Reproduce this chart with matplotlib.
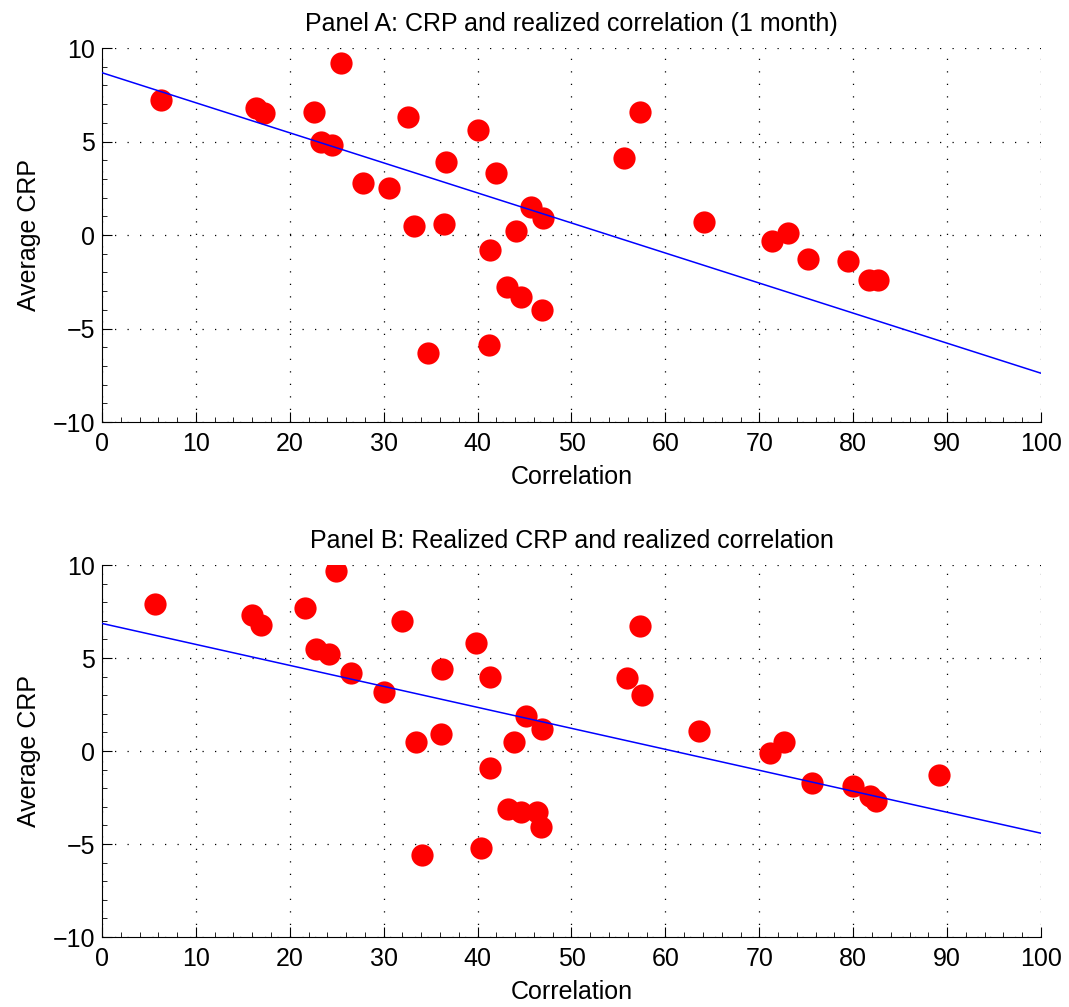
import matplotlib
matplotlib.use("Agg")
import matplotlib.pyplot as plt
from matplotlib.ticker import MultipleLocator

plt.rcParams['font.family'] = ['Liberation Sans', 'DejaVu Sans']

# Panel A: CRP vs realized correlation (1 month)
corr_a = [6.3, 16.4, 17.3, 22.6, 25.5, 23.3, 24.5, 27.8, 30.6, 32.6, 33.2, 34.7,
          36.4, 36.6, 40.0, 41.3, 41.2, 42.0, 43.1, 44.1, 44.6, 45.7, 47.0, 46.9,
          55.6, 57.3, 64.1, 71.4, 73.1, 75.2, 79.4, 81.7, 82.6]
crp_a = [7.2, 6.8, 6.5, 6.6, 9.2, 5.0, 4.8, 2.8, 2.5, 6.3, 0.5, -6.3,
         0.6, 3.9, 5.6, -0.8, -5.9, 3.3, -2.8, 0.2, -3.3, 1.5, 0.9, -4.0,
         4.1, 6.6, 0.7, -0.3, 0.1, -1.3, -1.4, -2.4, -2.4]
fit_a = (8.68, -0.1607)   # intercept, slope

# Panel B: realized CRP vs realized correlation
corr_b = [5.6, 16.0, 16.9, 21.6, 24.9, 22.8, 24.2, 26.5, 30.0, 31.9, 33.4, 34.1,
          36.1, 36.2, 39.8, 41.3, 40.4, 41.3, 43.2, 43.9, 44.6, 45.2, 46.9, 46.3,
          46.8, 55.9, 57.3, 57.5, 63.6, 71.1, 72.6, 75.6, 80.0, 81.8, 82.4, 89.1]
crp_b = [7.9, 7.3, 6.8, 7.7, 9.7, 5.5, 5.2, 4.2, 3.2, 7.0, 0.5, -5.6,
         0.9, 4.4, 5.8, -0.9, -5.2, 4.0, -3.1, 0.5, -3.3, 1.9, 1.2, -3.3,
         -4.1, 3.9, 6.7, 3.0, 1.1, -0.1, 0.5, -1.7, -1.9, -2.4, -2.7, -1.3]
fit_b = (6.86, -0.1128)

fig = plt.figure(figsize=(10.69, 10.07), dpi=100)
ax_a = fig.add_axes([0.0954, 0.5809, 0.8784, 0.3714])
ax_b = fig.add_axes([0.0954, 0.0695, 0.8784, 0.3694])


def draw_panel(ax, x, y, fit, title):
    ax.plot(x, y, "o", color="red", markersize=16, markeredgewidth=0, zorder=3)
    b0, b1 = fit
    ax.plot([0, 100], [b0, b0 + b1 * 100], color="blue", linewidth=1.1, zorder=4)
    ax.set_xlim(0, 100)
    ax.set_ylim(-10, 10)
    ax.xaxis.set_major_locator(MultipleLocator(10))
    ax.xaxis.set_minor_locator(MultipleLocator(2))
    ax.yaxis.set_major_locator(MultipleLocator(5))
    ax.yaxis.set_minor_locator(MultipleLocator(1))
    ax.grid(True, which="major", color="black", linestyle=(0, (1, 9)), linewidth=0.9)
    ax.spines["top"].set_visible(False)
    ax.spines["right"].set_visible(False)
    ax.tick_params(which="both", direction="in", labelsize=18)
    ax.tick_params(which="major", length=7)
    ax.tick_params(axis="x", which="major", pad=7)
    ax.tick_params(axis="y", which="major", pad=5)
    ax.tick_params(which="minor", length=3.5)
    ax.set_title(title, fontsize=18, pad=12)
    ax.set_xlabel("Correlation", fontsize=18, labelpad=7)
    ax.set_ylabel("Average CRP", fontsize=18, labelpad=8)


draw_panel(ax_a, corr_a, crp_a, fit_a, "Panel A: CRP and realized correlation (1 month)")
draw_panel(ax_b, corr_b, crp_b, fit_b, "Panel B: Realized CRP and realized correlation")

fig.savefig("out.png", dpi=100)
